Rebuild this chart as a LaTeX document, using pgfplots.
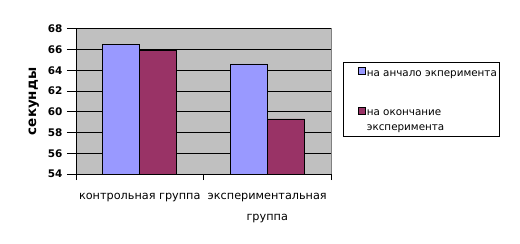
\documentclass[border=0pt]{standalone}
\usepackage{pgfplots}
\pgfplotsset{compat=1.18}
\usepackage{fontspec}
\setmainfont{DejaVu Sans}
\definecolor{barblue}{HTML}{9999FF}
\definecolor{barmaroon}{HTML}{993366}
\definecolor{plotgray}{HTML}{C0C0C0}
\begin{document}
\begin{tikzpicture}
\path[use as bounding box] (0,0) rectangle (520bp,244bp);
\begin{axis}[
  at={(76bp,70bp)}, anchor=south west,
  scale only axis, width=255bp, height=145.3bp,
  ybar=0pt, bar width=37bp,
  xmin=-0.5, xmax=1.5, ymin=54, ymax=68,
  ytick={54,56,...,68},
  /pgf/number format/assume math mode=true,
  ymajorgrids, grid style={black, line width=0.6pt},
  axis background/.style={fill=plotgray, draw=gray},
  axis x line*=bottom, axis y line*=left,
  axis line style={black, line width=0.6pt},
  tick align=outside,
  major tick length=9bp,
  minor tick length=6bp,
  xtick={0,1},
  xticklabels={контрольная группа, {экспериментальная\\группа}},
  minor xtick={-0.5,0.5,1.5},
  major x tick style={draw=none},
  tick style={black, line width=0.6pt},
  xticklabel style={align=center, font=\fontsize{11.3}{21}\selectfont, yshift=-7bp},
  yticklabel style={font=\bfseries\fontsize{10.5}{12}\selectfont, xshift=-1bp},
  ylabel={секунды},
  ylabel style={at={(axis description cs:-0.165,0.5)}, anchor=center, font=\bfseries\fontsize{13.5}{16}\selectfont},
  legend cell align=left,
  legend style={at={(1.047,0.771)}, anchor=north west, draw=black, line width=0.6pt, fill=white,
    font=\fontsize{10.4}{14.5}\selectfont, row sep=15.5bp, inner xsep=0.5bp, inner ysep=5bp,
    nodes={inner xsep=1.5bp, inner ysep=3bp}},
  legend image code/.code={\path (-14bp,-17bp); \draw[#1, line width=0.5pt] (0bp,-0.5bp) rectangle (7bp,6.5bp);},
]
\addplot[fill=barblue, draw=black, line width=0.6pt] coordinates {(0,66.5) (1,64.6)};
\addplot[fill=barmaroon, draw=black, line width=0.6pt] coordinates {(0,65.9) (1,59.3)};
\addlegendentry{на анчало экперимента}
\addlegendentry{\rlap{\raisebox{-14.5bp}{эксперимента}}на окончание}
\end{axis}
\end{tikzpicture}
\end{document}
